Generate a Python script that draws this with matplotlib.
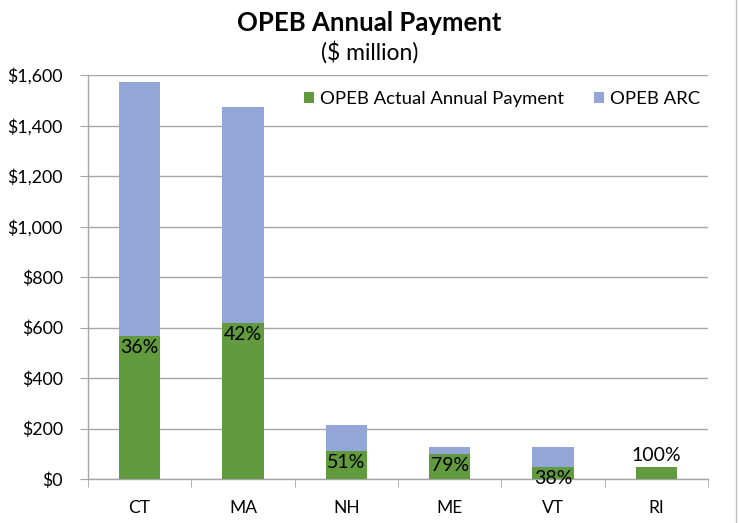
"""OPEB annual payment vs ARC, overlapping bars."""

import matplotlib
matplotlib.use("Agg")
import matplotlib.pyplot as plt
import numpy as np
from matplotlib.ticker import FuncFormatter, FixedLocator

states = ["CT", "MA", "NH", "ME", "VT", "RI"]
opeb_arc = [1572, 1475, 215, 127, 127, 48]
opeb_actual = [566, 618, 110, 100, 48, 48]
pct_labels = ["36%", "42%", "51%", "79%", "38%", "100%"]

GREEN = "#619A3F"
BLUE = "#92A6D7"
GRID = "#A6A6A6"

plt.rcParams["font.family"] = ["Lato", "DejaVu Sans"]

fig = plt.figure(figsize=(7.39, 5.23), dpi=100)
ax = fig.add_axes([0.119, 0.0841, 0.839, 0.7725])

x = np.arange(len(states))
width = 0.4
ax.bar(x, opeb_arc, width, color=BLUE, label="OPEB ARC", zorder=2)
ax.bar(x, opeb_actual, width, color=GREEN, label="OPEB Actual Annual Payment", zorder=3)

# percent labels: inside top of green bar, except RI which sits above it
for xi, val, lab in zip(x, opeb_actual, pct_labels):
    if lab == "100%":
        ax.text(xi, val + 10, lab, ha="center", va="bottom", fontsize=14, zorder=4)
    else:
        ax.text(xi, val - 12, lab, ha="center", va="top", fontsize=14, zorder=4)

ax.set_ylim(0, 1600)
ax.set_xlim(-0.5, len(states) - 0.5)
ax.set_yticks(np.arange(0, 1601, 200))
ax.yaxis.set_major_formatter(FuncFormatter(lambda v, p: f"${v:,.0f}"))
ax.set_xticks(x)
ax.set_xticklabels(states)
ax.xaxis.set_minor_locator(FixedLocator(np.arange(-0.5, len(states), 1.0)))
ax.tick_params(axis="x", which="major", length=0, pad=15, labelsize=12.5)
ax.tick_params(axis="x", which="minor", length=6, color=GRID, direction="out")
ax.tick_params(axis="y", length=6, color=GRID, labelsize=12.8, pad=12)

ax.grid(axis="y", color=GRID, linewidth=1, zorder=0)
ax.set_axisbelow(True)
for side in ["top", "right"]:
    ax.spines[side].set_visible(False)
for side in ["left", "bottom"]:
    ax.spines[side].set_color(GRID)
    ax.spines[side].set_linewidth(1)

handles, labels = ax.get_legend_handles_labels()
ax.legend(handles[::-1], labels[::-1], loc="center right", bbox_to_anchor=(1.0, 0.94),
          ncol=2, frameon=False, fontsize=13.3, handlelength=0.55, handleheight=0.55,
          handletextpad=0.35, columnspacing=1.6, borderaxespad=0.0)

fig.text(0.5, 0.956, "OPEB Annual Payment", ha="center", va="center",
         fontsize=18.5, fontweight="bold")
fig.text(0.5, 0.9, "($ million)", ha="center", va="center", fontsize=16.5)

# thin chart frame line on the right edge
fig.add_artist(plt.Line2D([0.996, 0.996], [0, 1], transform=fig.transFigure,
                          color="#BFBFBF", linewidth=1))

fig.savefig("out.png", dpi=100)
